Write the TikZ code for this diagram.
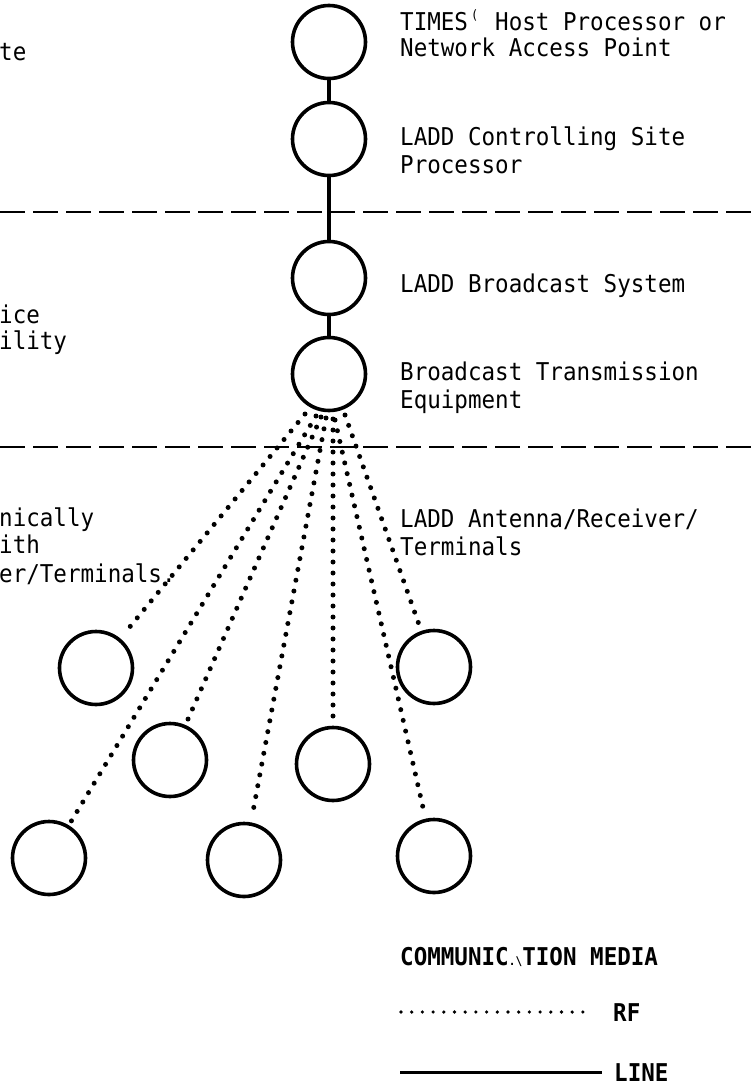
\documentclass[tikz,border=0pt]{standalone}
\usepackage{fontspec}
\newfontfamily\typefont[FakeStretch=0.92]{DejaVu Sans Mono}
\begin{document}
\begin{tikzpicture}[x=1pt,y=-1pt,
  unit/.style={circle,draw,line width=3.6pt,minimum size=73pt,inner sep=0pt},
  lbl/.style={anchor=base west,inner sep=0pt,font=\typefont\fontsize{24.5}{29}\selectfont},
  keylbl/.style={lbl,font=\typefont\bfseries\fontsize{24.5}{29}\selectfont},
  wire/.style={line width=3.4pt},
  rf/.style={line width=5pt,line cap=round,dash pattern=on 0pt off 11pt,shorten >=5pt},
  rfkey/.style={line width=3.6pt,line cap=round,dash pattern=on 0pt off 10.7pt},
  linekey/.style={line width=3pt},
  boundary/.style={line width=2.4pt,dash pattern=on 25pt off 8pt}]
\useasboundingbox (0,0) rectangle (755,1087);

% transmission chain
\node[unit] (host)  at (329,42)  {};
\node[unit] (ctrl)  at (329,139) {};
\node[unit] (bcast) at (329,278) {};
\node[unit] (xmit)  at (329,374) {};
\draw[wire] (host) -- (ctrl);
\draw[wire] (ctrl) -- (bcast);
\draw[wire] (bcast) -- (xmit);

% zone boundaries
\coordinate (b1w) at (0,212);   \coordinate (b1e) at (755,212);
\coordinate (b2w) at (0,447);   \coordinate (b2e) at (755,447);
\draw[boundary] (b1w) -- (b1e);
\draw[boundary] (b2w) -- (b2e);

% receiving terminals
\node[unit] (t1) at (96,668)  {};
\node[unit] (t2) at (434,667) {};
\node[unit] (t3) at (170,760) {};
\node[unit] (t4) at (333,764) {};
\node[unit] (t5) at (49,858)  {};
\node[unit] (t6) at (244,860) {};
\node[unit] (t7) at (434,856) {};

% broadcast fan
\coordinate (f1) at (305,414);
\coordinate (f2) at (316,416);
\coordinate (f3) at (321,417);
\coordinate (f4) at (326,418);
\coordinate (f5) at (333,419);
\coordinate (f6) at (335,420);
\coordinate (f7) at (345,415);
\draw[rf] (f1) -- (t1);
\draw[rf] (f2) -- (t5);
\draw[rf] (f3) -- (t3);
\draw[rf] (f4) -- (t6);
\draw[rf] (f5) -- (t4);
\draw[rf] (f6) -- (t7);
\draw[rf] (f7) -- (t2);

% labels, right column
\node[lbl] (l1a) at (400,30)  {TIMES\makebox[0.554em]{\raisebox{0.75ex}{\fontsize{13}{13}\selectfont(}} Host Processor or};
\node[lbl] (l1b) at (400,56)  {Network Access Point};
\node[lbl] (l2a) at (400,145) {LADD Controlling Site};
\node[lbl] (l2b) at (400,173) {Processor};
\node[lbl] (l3)  at (400,292) {LADD Broadcast System};
\node[lbl] (l4a) at (400,380) {Broadcast Transmission};
\node[lbl] (l4b) at (400,408) {Equipment};
\node[lbl] (l5a) at (400,527) {LADD Antenna/Receiver/};
\node[lbl] (l5b) at (400,555) {Terminals};

% labels, left column
\node[lbl] (z1)  at (-1,60)  {te};
\node[lbl] (z2a) at (-1,323) {ice};
\node[lbl] (z2b) at (-1,349) {ility};
\node[lbl] (z3a) at (-1,526) {nically};
\node[lbl] (z3b) at (-1,553) {ith};
\node[lbl] (z3c) at (-1,582) {er/Terminals.};

% key
\node[keylbl] (key) at (400,965) {COMMUNIC\makebox[0.554em]{\fontsize{12}{12}\selectfont.\textbackslash}TION MEDIA};
\node[keylbl] (rf)  at (613,1021) {RF};
\node[keylbl] (ln)  at (614,1081) {LINE};
\coordinate (rfa) at (401,1012); \coordinate (rfb) at (593,1012);
\coordinate (lna) at (400,1072); \coordinate (lnb) at (602,1072);
\draw[rfkey] (rfa) -- (rfb);
\draw[linekey] (lna) -- (lnb);
\end{tikzpicture}
\end{document}
